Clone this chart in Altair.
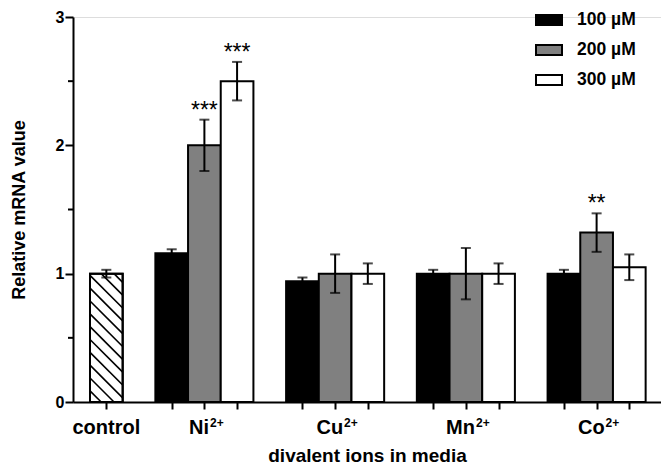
import altair as alt
import pandas as pd
import numpy as np

# ---------------- data ----------------
control_label = "control"
control_value = 1.00
control_error = 0.03

ions = ["Ni", "Cu", "Mn", "Co"]
charges = ["2+", "2+", "2+", "2+"]
doses = ["100 µM", "200 µM", "300 µM"]
dose_colors = ["#000000", "#808080", "#ffffff"]

values_100 = [1.16, 0.94, 1.00, 1.00]
values_200 = [2.00, 1.00, 1.00, 1.32]
values_300 = [2.50, 1.00, 1.00, 1.05]

errors_100 = [0.03, 0.03, 0.03, 0.03]
errors_200 = [0.20, 0.15, 0.20, 0.15]
errors_300 = [0.15, 0.08, 0.08, 0.10]

stars_100 = ["", "", "", ""]
stars_200 = ["***", "", "", "**"]
stars_300 = ["***", "", "", ""]

y_ticks = [0, 1, 2, 3]
y_minor = [0.5, 1.5, 2.5]

# ---------------- layout helpers ----------------
FONT = "Liberation Sans"
PLOT_W, PLOT_H = 588, 385
X_DOM = [-1.02, 16.97]
Y_DOM = [0, 3]

series_vals = [values_100, values_200, values_300]
series_errs = [errors_100, errors_200, errors_300]
series_stars = [stars_100, stars_200, stars_300]

rows = []
for i, ion in enumerate(ions):
    for j, dose in enumerate(doses):
        pos = 2 + 4 * i + j
        v = series_vals[j][i]
        e = series_errs[j][i]
        rows.append(dict(pos=pos, x0=pos - 0.5, x1=pos + 0.5, value=v, base=0,
                         lo=v - e, hi=v + e, dose=dose, star=series_stars[j][i]))
bars = pd.DataFrame(rows)

ctrl = pd.DataFrame([dict(pos=0, x0=-0.5, x1=0.5, value=control_value, base=0,
                          lo=control_value - control_error,
                          hi=control_value + control_error, dose="control", star="")])

allbars = pd.concat([ctrl, bars], ignore_index=True)
caps = pd.concat([allbars.assign(cy=allbars["lo"]), allbars.assign(cy=allbars["hi"])],
                 ignore_index=True)[["pos", "cy"]]

# hatch lines (45 degrees on screen) inside control bar
px_x = PLOT_W / (X_DOM[1] - X_DOM[0])
px_y = PLOT_H / (Y_DOM[1] - Y_DOM[0])
s = px_x / px_y
xl, xr, v = -0.5, 0.5, control_value
hatch = []
for k in range(-12, 4):
    c = 0.987 + 0.1 * k
    xs = max(xl, xl + (c - v) / s)
    xe = min(xr, xl + c / s)
    if c > 0 and xs < xe:
        hatch.append(dict(hx0=xs, hy0=c - s * (xs - xl), hx1=xe, hy1=c - s * (xe - xl)))
hatch = pd.DataFrame(hatch)

x_scale = alt.Scale(domain=X_DOM, nice=False, zero=False)
y_scale = alt.Scale(domain=Y_DOM, nice=False, zero=False)

tick_positions = [0] + [2 + 4 * i + j for i in range(len(ions)) for j in range(3)]

x_axis = alt.Axis(values=tick_positions, labels=False, tickSize=7, tickWidth=2,
                  tickColor="black", domainWidth=2, domainColor="black", grid=False,
                  title="divalent ions in media", titleFont=FONT, titleFontSize=19,
                  titleFontWeight="bold", titleColor="black", titlePadding=36)
y_axis = alt.Axis(values=y_ticks, format="d", tickSize=8, tickWidth=2, tickColor="black",
                  domainWidth=2, domainColor="black", grid=False, labelFont=FONT,
                  labelFontSize=16, labelFontWeight="bold", labelColor="black",
                  labelPadding=1, title="Relative mRNA value", titleFont=FONT,
                  titleFontSize=18, titleFontWeight="bold", titleColor="black",
                  titlePadding=27)


def X(f):
    return alt.X(f, type="quantitative", scale=x_scale, axis=x_axis)


def Y(f):
    return alt.Y(f, type="quantitative", scale=y_scale, axis=y_axis)


dose_bars = alt.Chart(bars).mark_bar(stroke="black", strokeWidth=2).encode(
    x=X("x0"), x2="x1", y=Y("value"), y2="base",
    fill=alt.Fill("dose:N", scale=alt.Scale(domain=doses, range=dose_colors),
                  legend=alt.Legend(title=None, orient="none", legendX=462, legendY=-11,
                                    symbolType="M-1,-0.38H1V0.38H-1Z", symbolSize=676,
                                    symbolStrokeColor="black", symbolStrokeWidth=2,
                                    labelFont=FONT, labelFontSize=17.5, labelFontWeight="bold",
                                    labelColor="black", labelOffset=14, rowPadding=7,
                                    padding=0)),
)

ctrl_bar = alt.Chart(ctrl).mark_bar(stroke="black", strokeWidth=2, fill="white").encode(
    x=X("x0"), x2="x1", y=Y("value"), y2="base")

hatch_layer = alt.Chart(hatch).mark_rule(color="black", strokeWidth=1.6).encode(
    x=X("hx0"), x2="hx1", y=Y("hy0"), y2="hy1")

ctrl_outline = alt.Chart(ctrl).mark_bar(stroke="black", strokeWidth=2, fillOpacity=0).encode(
    x=X("x0"), x2="x1", y=Y("value"), y2="base")

err = alt.Chart(allbars).mark_rule(color="black", strokeWidth=2).encode(
    x=X("pos"), y=Y("lo"), y2="hi")

cap = alt.Chart(caps).mark_tick(orient="horizontal", size=10, thickness=2, color="black").encode(
    x=X("pos"), y=Y("cy"))

star = alt.Chart(bars).transform_filter("datum.star != ''").mark_text(
    font=FONT, fontSize=23, baseline="alphabetic", align="center", dy=-2, color="black").encode(
    x=X("pos"), y=Y("hi"), text="star:N")

minor = alt.Chart(pd.DataFrame({"m": y_minor})).mark_rule(color="black", strokeWidth=2).encode(
    x=alt.value(-5), x2=alt.value(0), y=Y("m"))

layers = [dose_bars, ctrl_bar, hatch_layer, ctrl_outline, err, cap, star, minor]

# x labels
LBL = 20
layers.append(alt.Chart(pd.DataFrame({"pos": [0], "y": [0], "t": [control_label]})).mark_text(
    font=FONT, fontSize=LBL, fontWeight="bold", baseline="alphabetic", align="center", dy=32,
    color="black").encode(x=X("pos"), y=Y("y"), text="t:N"))

W = {"N": 722, "i": 278, "C": 722, "u": 611, "M": 833, "n": 611, "o": 611, "2": 556, "+": 584}


def tw(t, size):
    return sum(W.get(ch, 600) for ch in t) / 1000 * size


for i, (ion, ch) in enumerate(zip(ions, charges)):
    pos = 2 + 4 * i + 1
    bw = tw(ion, LBL)
    sw = tw(ch, 12)
    left = -(bw + sw + 1) / 2 + 2
    d = pd.DataFrame({"pos": [pos], "y": [0], "t": [ion], "c": [ch]})
    layers.append(alt.Chart(d).mark_text(font=FONT, fontSize=LBL, fontWeight="bold",
                                         baseline="alphabetic", align="left", dx=left, dy=32,
                                         color="black").encode(x=X("pos"), y=Y("y"), text="t:N"))
    layers.append(alt.Chart(d).mark_text(font=FONT, fontSize=12, fontWeight="bold",
                                         baseline="alphabetic", align="left", dx=left + bw + 1,
                                         dy=25, color="black").encode(x=X("pos"), y=Y("y"),
                                                                      text="c:N"))

chart = alt.layer(*layers).properties(
    width=PLOT_W, height=PLOT_H,
    autosize=alt.AutoSizeParams(type="none"),
    padding={"left": 65, "top": 9, "right": 0, "bottom": 62},
).configure_view(strokeWidth=0).configure(font=FONT)

chart.save("out.html", embed_options={"renderer": "svg", "actions": False})
